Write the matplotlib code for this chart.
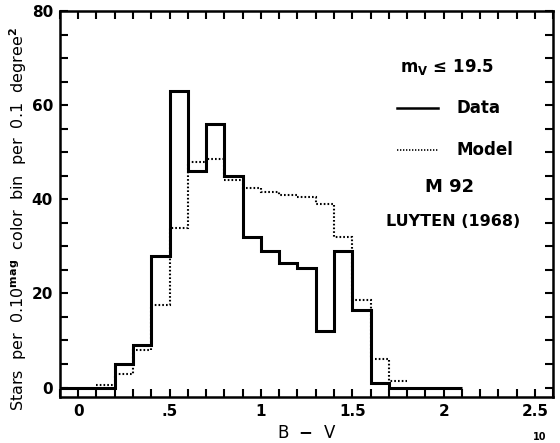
import numpy as np
import matplotlib
matplotlib.use('Agg')
import matplotlib.pyplot as plt
from matplotlib.ticker import MultipleLocator

# Histogram values (stars per 0.1 mag bin)
data_edges = np.round(np.arange(-0.1, 2.11, 0.1), 2)
data_counts = [0, 0, 0, 5, 9, 28, 63, 46, 56, 45, 32, 29, 26.5, 25.5,
               12, 29, 16.5, 1, 0, 0, 0, 0]

model_edges = np.round(np.arange(0.1, 1.81, 0.1), 2)
model_counts = [0.6, 2.8, 8, 17.5, 34, 48, 48.5, 44, 42.5, 41.5, 41,
                40.5, 39, 32, 18.5, 6, 1.3]

x_ticks = [0, 0.5, 1, 1.5, 2, 2.5]
x_tick_labels = ['0', '.5', '1', '1.5', '2', '2.5']
y_ticks = [0, 20, 40, 60, 80]

plt.rcParams['font.family'] = ['DejaVu Sans']
plt.rcParams['font.weight'] = 'bold'
plt.rcParams['mathtext.fontset'] = 'custom'
plt.rcParams['mathtext.rm'] = 'DejaVu Sans:bold'
plt.rcParams['mathtext.it'] = 'DejaVu Sans:bold'
plt.rcParams['mathtext.bf'] = 'DejaVu Sans:bold'

fig = plt.figure(figsize=(5.6, 4.43), dpi=100)
ax = fig.add_axes([0.107, 0.104, 0.881, 0.871])

ax.stairs(data_counts, data_edges, color='black', linewidth=2.2,
          baseline=None)
ax.stairs(model_counts, model_edges, color='black', linewidth=1.5,
          linestyle=(0, (0.8, 1.0)), baseline=None)

ax.set_xlim(-0.1, 2.6)
ax.set_ylim(-2, 80)

ax.set_xticks(x_ticks)
ax.set_xticklabels(x_tick_labels)
ax.xaxis.set_minor_locator(MultipleLocator(0.1))
ax.yaxis.set_minor_locator(MultipleLocator(5))
ax.set_yticks(y_ticks)

ax.tick_params(which='both', direction='in', top=True, right=True,
               width=1.5, length=6, labelsize=11, pad=5)
for spine in ax.spines.values():
    spine.set_linewidth(1.8)

ax.set_xlabel('B  $-$  V', fontsize=12, labelpad=4)
ax.set_ylabel('Stars  per  0.10$^{\\mathrm{mag}}$  color  bin  per  0.1  degree$^{2}$',
              fontsize=11.5)
ax.yaxis.set_label_coords(-0.062, 0.46)

# Annotations / legend block
tx = fig.transFigure
fig.text(447 / 560, 1 - 67 / 443, '$\\mathrm{m_V}$ ≤ 19.5', fontsize=12,
         ha='center', va='center')
fig.add_artist(plt.Line2D([397 / 560, 438 / 560], [1 - 108 / 443] * 2,
                          transform=tx, color='black', linewidth=1.8))
fig.text(456 / 560, 1 - 108 / 443, 'Data', fontsize=12, va='center')
fig.add_artist(plt.Line2D([397 / 560, 438 / 560], [1 - 150 / 443] * 2,
                          transform=tx, color='black', linewidth=1.2,
                          linestyle=(0, (0.8, 1.0))))
fig.text(456 / 560, 1 - 150 / 443, 'Model', fontsize=12, va='center')
fig.text(450 / 560, 1 - 187 / 443, 'M 92', fontsize=13, ha='center',
         va='center')
fig.text(453 / 560, 1 - 222 / 443, 'LUYTEN (1968)', fontsize=11.5,
         ha='center', va='center')
fig.text(540 / 560, 1 / 443, '10', fontsize=7, ha='center', va='bottom')

fig.savefig('out.png', dpi=100)
